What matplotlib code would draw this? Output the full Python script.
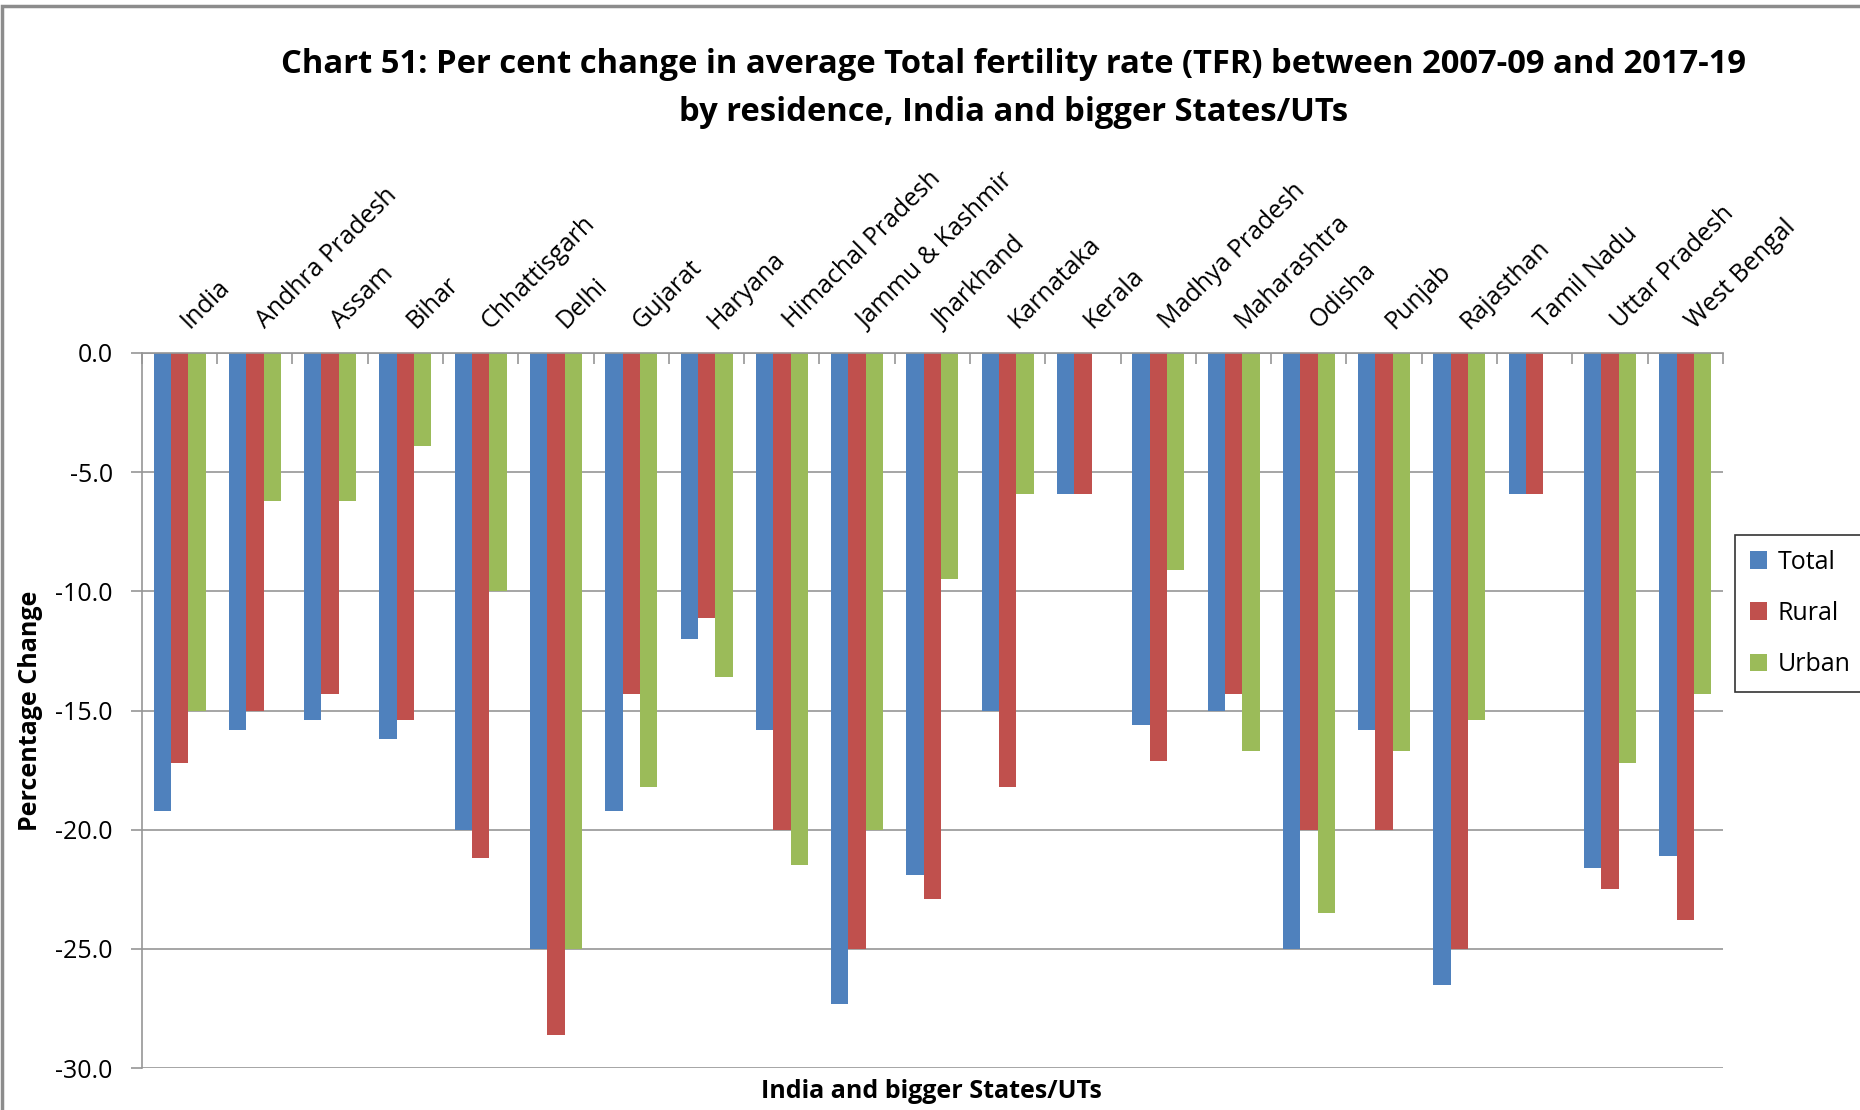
import numpy as np
import matplotlib
matplotlib.use('Agg')
import matplotlib.pyplot as plt
import matplotlib.transforms as mtransforms
from matplotlib.patches import Rectangle

# data (per cent change, 2007-09 to 2017-19)
states = ['India', 'Andhra Pradesh', 'Assam', 'Bihar', 'Chhattisgarh', 'Delhi',
          'Gujarat', 'Haryana', 'Himachal Pradesh', 'Jammu & Kashmir', 'Jharkhand',
          'Karnataka', 'Kerala', 'Madhya Pradesh', 'Maharashtra', 'Odisha', 'Punjab',
          'Rajasthan', 'Tamil Nadu', 'Uttar Pradesh', 'West Bengal']
total = [-19.2, -15.8, -15.4, -16.2, -20.0, -25.0, -19.2, -12.0, -15.8, -27.3, -21.9,
         -15.0, -5.9, -15.6, -15.0, -25.0, -15.8, -26.5, -5.9, -21.6, -21.1]
rural = [-17.2, -15.0, -14.3, -15.4, -21.2, -28.6, -14.3, -11.1, -20.0, -25.0, -22.9,
         -18.2, -5.9, -17.1, -14.3, -20.0, -20.0, -25.0, -5.9, -22.5, -23.8]
urban = [-15.0, -6.2, -6.2, -3.9, -10.0, -25.0, -18.2, -13.6, -21.5, -20.0, -9.5,
         -5.9, 0.0, -9.1, -16.7, -23.5, -16.7, -15.4, 0.0, -17.2, -14.3]

plt.rcParams['font.family'] = ['Open Sans', 'DejaVu Sans']
plt.rcParams['axes.unicode_minus'] = False

fig = plt.figure(figsize=(18.6, 11.1), dpi=100)
ax = fig.add_axes([0.0763, 0.0378, 0.850, 0.6442])

x = np.arange(len(states))
w = 0.23
ax.bar(x - w, total, w, color='#4F81BD', label='Total', zorder=3)
ax.bar(x, rural, w, color='#C0504D', label='Rural', zorder=3)
ax.bar(x + w, urban, w, color='#9BBB59', label='Urban', zorder=3)

ax.set_xlim(-0.5, len(states) - 0.5)
ax.set_ylim(-30, 0)
ax.set_yticks(np.arange(-30, 0.1, 5))
ax.set_yticklabels(['%.1f' % v for v in np.arange(-30, 0.1, 5)], fontsize=18)
ax.yaxis.grid(True, color='#969696', linewidth=1.2, zorder=0)
ax.tick_params(axis='y', length=8, color='#969696', width=1.2, pad=13)

# category labels sit above the zero line
ax.xaxis.tick_top()
ax.set_xticks(x)
ax.set_xticklabels(states, rotation=45, ha='left', va='bottom',
                   rotation_mode='anchor', fontsize=18)
ax.tick_params(axis='x', which='major', length=0, pad=14)
shift = mtransforms.ScaledTranslation(14 / 100, 0, fig.dpi_scale_trans)
for lab in ax.get_xticklabels():
    lab.set_transform(lab.get_transform() + shift)
ax.set_xticks(np.arange(-0.5, len(states), 1), minor=True)
ax.tick_params(axis='x', which='minor', direction='in', length=8,
               color='#969696', width=1.2, top=True, bottom=False)

for s in ['right', 'bottom']:
    ax.spines[s].set_visible(False)
ax.spines['left'].set_color('#969696')
ax.spines['left'].set_linewidth(1.2)
ax.spines['top'].set_color('#969696')
ax.spines['top'].set_linewidth(1.2)
ax.spines['top'].set_zorder(4)

ax.set_ylabel('Percentage Change', fontsize=18, fontweight='bold', labelpad=9)
fig.text(0.501, 0.017, 'India and bigger States/UTs', ha='center', va='center',
         fontsize=18, fontweight='bold')

fig.text(0.545, 0.942, 'Chart 51: Per cent change in average Total fertility rate (TFR) between 2007-09 and 2017-19',
         ha='center', va='center', fontsize=23.6, fontweight='bold')
fig.text(0.545, 0.899, 'by residence, India and bigger States/UTs',
         ha='center', va='center', fontsize=23.6, fontweight='bold')

leg = ax.legend(loc='center left', bbox_to_anchor=(1.0076, 0.636), fontsize=18,
                frameon=True, fancybox=False, edgecolor='black', handlelength=0.7,
                handleheight=0.7, handletextpad=0.4, labelspacing=1.05,
                borderpad=0.6, borderaxespad=0)
leg.get_frame().set_linewidth(1.2)

# outer chart frame
fig.patches.append(Rectangle((0.001, -0.01), 1.1, 1.005, transform=fig.transFigure,
                             fill=False, edgecolor='#8c8c8c', linewidth=2.5))

fig.savefig('out.png', dpi=100)
plt.close()
